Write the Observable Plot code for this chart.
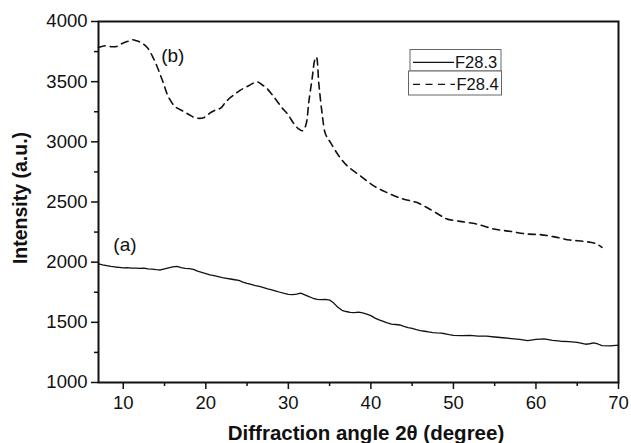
<!DOCTYPE html>
<html>
<head>
<meta charset="utf-8">
<script src="https://cdn.jsdelivr.net/npm/d3@7"></script>
<script src="https://cdn.jsdelivr.net/npm/@observablehq/plot@0.6"></script>
<style>
  html, body { margin: 0; padding: 0; background: #fff; }
  #chart svg { display: block; }
</style>
</head>
<body>
<div id="chart"></div>
<script>
// Series (a) F28.3 — solid line
const aAngle = [7,7.5,8,8.5,9,9.5,10,10.5,11,11.5,12,12.5,13,13.5,14,14.5,15,15.5,16,16.5,17,17.5,18,18.5,19,19.5,20,20.5,21,21.5,22,22.5,23,23.5,24,24.5,25,25.5,26,26.5,27,27.5,28,28.5,29,29.5,30,30.5,31,31.5,32,32.5,33,33.5,34,34.5,35,35.5,36,36.5,37,37.5,38,38.5,39,39.5,40,40.5,41,41.5,42,42.5,43,43.5,44,44.5,45,45.5,46,46.5,47,47.5,48,48.5,49,49.5,50,51,52,53,54,55,56,57,58,59,60,61,62,63,64,65,66,66.5,67,67.5,68,69,70];
const aIntensity = [1985,1978,1972,1965,1960,1957,1952,1954,1950,1951,1948,1950,1945,1942,1938,1935,1945,1953,1960,1965,1955,1948,1947,1940,1925,1915,1905,1895,1888,1880,1872,1866,1860,1854,1848,1835,1824,1815,1806,1798,1788,1778,1770,1760,1750,1740,1733,1730,1735,1742,1728,1713,1700,1690,1688,1690,1685,1660,1625,1600,1590,1582,1580,1584,1578,1568,1556,1535,1520,1508,1495,1485,1482,1478,1466,1456,1450,1440,1432,1426,1420,1415,1412,1410,1405,1398,1392,1390,1392,1386,1385,1378,1372,1365,1358,1348,1358,1362,1350,1343,1340,1333,1318,1322,1330,1320,1306,1305,1310];

// Series (b) F28.4 — dashed line
const bAngle = [7,7.5,8,8.6,9.2,9.8,10.5,11.1,11.6,12.1,12.9,13.7,14.3,14.9,15.5,16.3,17.3,18.0,18.6,19.2,19.8,20.6,21.2,21.8,22.4,23.0,23.6,24.2,25.2,26.2,26.8,27.4,28.0,28.6,29.2,29.9,30.7,31.2,31.7,32.1,32.5,32.9,33.2,33.4,33.7,34.1,34.5,35.1,36.1,37.1,38.7,40.3,41.9,43.9,45.5,47.1,48.8,49.2,50.8,52.8,54.9,56.9,58.9,60.5,62.1,64.1,65.8,67.2,68.0];
const bIntensity = [3784,3795,3798,3790,3793,3815,3834,3848,3840,3826,3784,3688,3591,3480,3369,3292,3253,3225,3203,3195,3203,3244,3265,3280,3330,3369,3400,3430,3466,3499,3475,3444,3395,3342,3285,3231,3148,3110,3092,3134,3342,3535,3680,3705,3480,3231,3065,2995,2885,2802,2719,2636,2580,2525,2497,2442,2373,2359,2339,2317,2276,2256,2234,2229,2212,2184,2173,2156,2123];

const seriesNames = ["F28.3", "F28.4"];
const xMajorTicks = [10,20,30,40,50,60,70];
const xMinorTicks = [15,25,35,45,55,65];
const yMajorTicks = [1000,1500,2000,2500,3000,3500,4000];
const yMinorTicks = [1250,1750,2250,2750,3250,3750];
const curveLabels = [
  {x: 10.2, y: 2140, text: "(a)"},
  {x: 16.0, y: 3715, text: "(b)"}
];
const xTitle = "Diffraction angle 2θ (degree)";
const yTitle = "Intensity (a.u.)";

const dataA = aAngle.map((x, i) => ({x, y: aIntensity[i]}));
const dataB = bAngle.map((x, i) => ({x, y: bIntensity[i]}));

const W = 631, H = 443;
const mL = 98, mR = 13, mT = 21, mB = 61;
const FONT = "'Liberation Sans', Arial, sans-serif";

const chart = Plot.plot({
  width: W,
  height: H,
  marginLeft: mL,
  marginRight: mR,
  marginTop: mT,
  marginBottom: mB,
  style: {fontFamily: FONT, fontSize: "18px", color: "#111", background: "#fff"},
  x: {domain: [7, 70]},
  y: {domain: [1000, 4000]},
  marks: [
    Plot.axisX({ticks: xMajorTicks, tickSize: 7, tickPadding: 6, tickFormat: d => String(d), label: null, stroke: "#111", strokeWidth: 1.5, fontSize: 18.5}),
    Plot.axisX({ticks: xMinorTicks, tickSize: 4, tickFormat: () => "", label: null, stroke: "#111", strokeWidth: 1.5}),
    Plot.axisY({ticks: yMajorTicks, tickSize: 7, tickPadding: 4, tickFormat: d => String(d), label: null, stroke: "#111", strokeWidth: 1.5, fontSize: 18.5}),
    Plot.axisY({ticks: yMinorTicks, tickSize: 4, tickFormat: () => "", label: null, stroke: "#111", strokeWidth: 1.5}),
    Plot.frame({stroke: "#111", strokeWidth: 2}),
    Plot.line(dataA, {x: "x", y: "y", stroke: "#111", strokeWidth: 1.3}),
    Plot.line(dataB, {x: "x", y: "y", stroke: "#111", strokeWidth: 1.6, strokeDasharray: "7,5", curve: "catmull-rom"}),
    Plot.text(curveLabels, {x: "x", y: "y", text: "text", fontSize: 19, fill: "#111"})
  ]
});

document.getElementById("chart").appendChild(chart);

const svg = d3.select(chart);
// axis titles
svg.append("text")
  .attr("x", 366).attr("y", 440)
  .attr("text-anchor", "middle")
  .attr("font-family", FONT)
  .attr("font-weight", "bold").attr("font-size", 20.5)
  .attr("fill", "#111")
  .text(xTitle);
svg.append("text")
  .attr("transform", "translate(27,198) rotate(-90)")
  .attr("text-anchor", "middle")
  .attr("font-family", FONT)
  .attr("font-weight", "bold").attr("font-size", 19.5)
  .attr("fill", "#111")
  .text(yTitle);

// legend
const lg = svg.append("g").attr("font-family", FONT).attr("font-size", 16.5).attr("fill", "#111").attr("text-anchor", "start");
lg.append("rect").attr("x", 410).attr("y", 49.5).attr("width", 91).attr("height", 21.5).attr("fill", "#fff").attr("stroke", "#666").attr("stroke-width", 1);
lg.append("rect").attr("x", 408.5).attr("y", 71).attr("width", 93).attr("height", 24).attr("fill", "#fff").attr("stroke", "#666").attr("stroke-width", 1);
lg.append("line").attr("x1", 413).attr("x2", 454).attr("y1", 62.3).attr("y2", 62.3).attr("stroke", "#111").attr("stroke-width", 1.3);
lg.append("line").attr("x1", 413).attr("x2", 455).attr("y1", 84.3).attr("y2", 84.3).attr("stroke", "#111").attr("stroke-width", 1.3).attr("stroke-dasharray", "7,5.5");
lg.append("text").attr("x", 455).attr("y", 67.8).attr("text-anchor", "start").text(seriesNames[0]);
lg.append("text").attr("x", 456.5).attr("y", 89.8).attr("text-anchor", "start").text(seriesNames[1]);
</script>
</body>
</html>
